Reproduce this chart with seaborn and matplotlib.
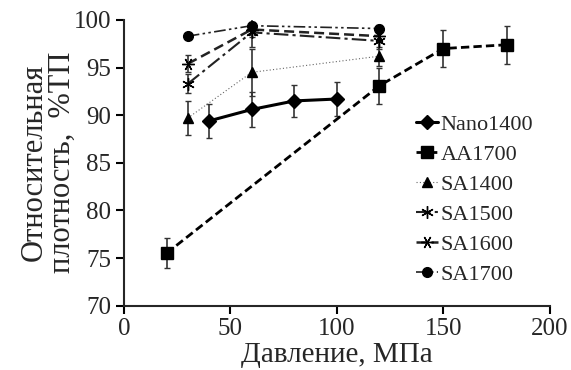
import matplotlib
matplotlib.use('Agg')
import matplotlib.pyplot as plt
import seaborn as sns
import pandas as pd

# данные
series = ['Nano1400', 'AA1700', 'SA1400', 'SA1500', 'SA1600', 'SA1700']

nano_x = [40, 60, 80, 100]
nano_y = [89.4, 90.6, 91.5, 91.7]
nano_err = [1.8, 1.8, 1.7, 1.8]

aa_x = [20, 120, 150, 180]
aa_y = [75.5, 93.1, 97.0, 97.4]
aa_err = [1.6, 1.9, 1.9, 2.0]

sa1400_x = [30, 60, 120]
sa1400_y = [89.7, 94.5, 96.2]
sa1400_err = [1.8, 2.5, 1.0]

sa1500_x = [30, 60, 120]
sa1500_y = [93.3, 98.7, 97.8]
sa1500_err = [1.0, 1.5, 0.8]

sa1600_x = [30, 60, 120]
sa1600_y = [95.4, 99.0, 98.3]
sa1600_err = [0.9, 0.8, 0.6]

sa1700_x = [30, 60, 120]
sa1700_y = [98.3, 99.4, 99.1]
sa1700_err = [0.3, 0.3, 0.4]

xs = [nano_x, aa_x, sa1400_x, sa1500_x, sa1600_x, sa1700_x]
ys = [nano_y, aa_y, sa1400_y, sa1500_y, sa1600_y, sa1700_y]
errs = [nano_err, aa_err, sa1400_err, sa1500_err, sa1600_err, sa1700_err]

rows = []
for name, x, y, e in zip(series, xs, ys, errs):
    for xi, yi, ei in zip(x, y, e):
        rows.append({'Давление': xi, 'Плотность': yi, 'err': ei, 'Образец': name})
df = pd.DataFrame(rows)

sns.set_style('ticks')
plt.rcParams['font.family'] = ['Liberation Serif', 'DejaVu Serif']

markers = {'Nano1400': 'D', 'AA1700': 's', 'SA1400': '^',
           'SA1500': (6, 2, 0), 'SA1600': (6, 2, 90), 'SA1700': 'o'}
dashes = {'Nano1400': '', 'AA1700': (3, 1.5), 'SA1400': (1, 2),
          'SA1500': (7, 2, 1.5, 2), 'SA1600': (4, 2), 'SA1700': (7, 2, 1.5, 2, 1.5, 2)}
sizes = {'Nano1400': 7, 'AA1700': 8, 'SA1400': 7, 'SA1500': 9, 'SA1600': 9, 'SA1700': 7}
widths = {'Nano1400': 2.2, 'AA1700': 2.0, 'SA1400': 0.8, 'SA1500': 1.5, 'SA1600': 1.8, 'SA1700': 1.2}
colors = {'Nano1400': 'black', 'AA1700': 'black', 'SA1400': '#666666',
          'SA1500': '#222222', 'SA1600': '#222222', 'SA1700': '#222222'}

fig = plt.figure(figsize=(5.71, 3.70), dpi=100)
ax = fig.add_axes([0.217, 0.174, 0.746, 0.772])

for name in series:
    d = df[df['Образец'] == name]
    ax.errorbar(d['Давление'], d['Плотность'], yerr=d['err'], fmt='none',
                ecolor='#333333', elinewidth=1.2, capsize=2.5, capthick=1.0, zorder=2)
    sns.lineplot(data=d, x='Давление', y='Плотность', ax=ax, color=colors[name],
                 linewidth=widths[name], dashes=dashes[name] if dashes[name] else (None, None),
                 marker=markers[name], markersize=sizes[name], markeredgecolor='black',
                 markerfacecolor='black', markeredgewidth=1.0, label=name, zorder=3)

ax.set_xlim(0, 200)
ax.set_ylim(70, 100)
ax.set_xticks([0, 50, 100, 150, 200])
ax.set_yticks([70, 75, 80, 85, 90, 95, 100])
ax.tick_params(axis='both', labelsize=18, width=1.5, length=6, color='black', pad=3)
sns.despine(ax=ax)
ax.spines['left'].set_linewidth(1.5)
ax.spines['bottom'].set_linewidth(1.5)

ax.set_xlabel('Давление, МПа', fontsize=21, labelpad=1)
ax.set_ylabel('Относительная\nплотность,  %ТП', fontsize=22, labelpad=-2, linespacing=0.95)

leg = ax.legend(loc='upper left', bbox_to_anchor=(0.665, 0.70), frameon=False,
                fontsize=16, handlelength=1.0, handletextpad=0.1,
                labelspacing=0.42, borderaxespad=0)

fig.savefig('out.png', dpi=100)
